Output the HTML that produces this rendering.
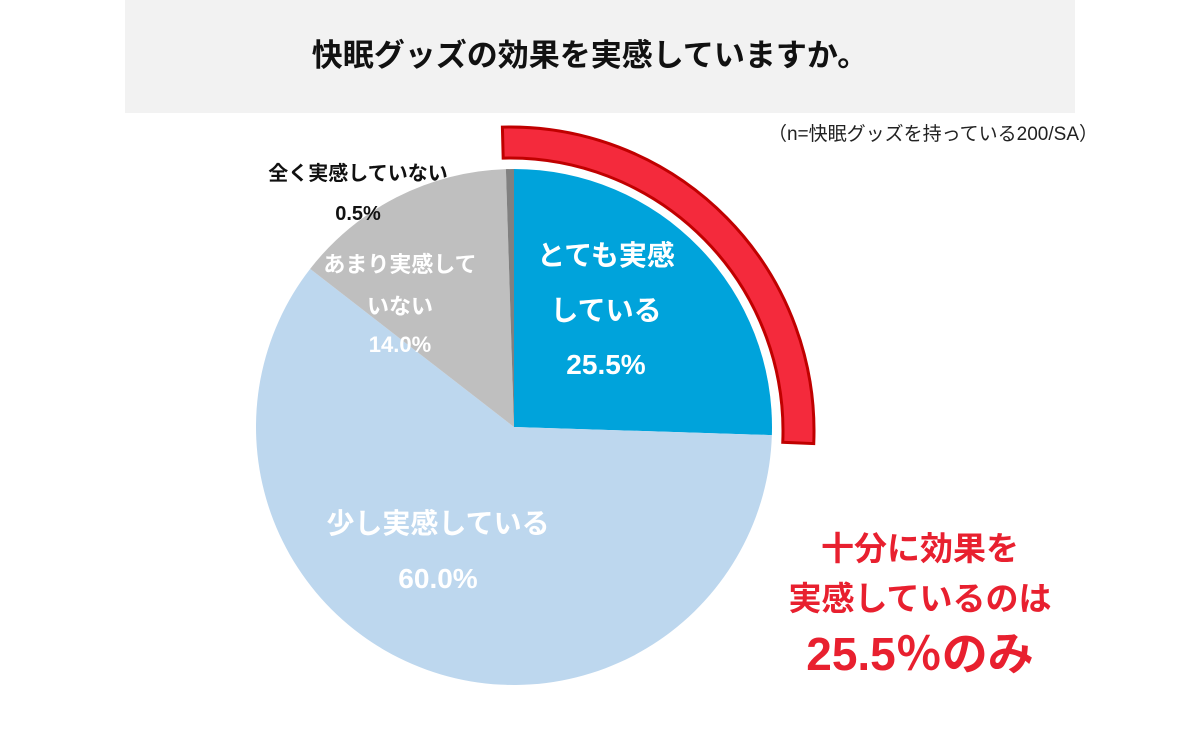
<!DOCTYPE html>
<html><head><meta charset="utf-8"><style>
body{margin:0;background:#fff;}
svg text{font-family:"Liberation Sans","Noto Sans CJK JP",sans-serif;}
</style></head><body>
<svg width="1200" height="730" viewBox="0 0 1200 730">
<rect x="125" y="0" width="950" height="113" fill="#f2f2f2"/>
<text x="590" y="66" text-anchor="middle" font-size="31" font-weight="bold" fill="#111">快眠グッズの効果を実感していますか。</text>
<text x="1098" y="140" text-anchor="end" font-size="19" fill="#222">（n=快眠グッズを持っている200/SA）</text>
<g id="slices"></g>
<path id="hl" fill="#f42a3c" stroke="#c00000" stroke-width="3"/>
<g font-weight="bold" text-anchor="middle">
<text x="606" y="265" font-size="28" fill="#fff">とても実感</text>
<text x="606" y="320" font-size="28" fill="#fff">している</text>
<text x="606" y="374" font-size="28" fill="#fff">25.5%</text>
<text x="438" y="533" font-size="28" fill="#fff">少し実感している</text>
<text x="438" y="588" font-size="28" fill="#fff">60.0%</text>
<text x="400" y="272" font-size="22" fill="#fff">あまり実感して</text>
<text x="400" y="314" font-size="22" fill="#fff">いない</text>
<text x="400" y="352" font-size="22" fill="#fff">14.0%</text>
<text x="358" y="180" font-size="20" fill="#111">全く実感していない</text>
<text x="358" y="220" font-size="20" fill="#111">0.5%</text>
<text x="920" y="560" font-size="33" fill="#e8202f">十分に効果を</text>
<text x="920" y="610" font-size="33" fill="#e8202f">実感しているのは</text>
<text x="920" y="670" font-size="46" fill="#e8202f">25.5％のみ</text>
</g>
</svg>
<script>
const categories=["とても実感している","少し実感している","あまり実感していない","全く実感していない"];
const values=[25.5,60.0,14.0,0.5];
const colors=["#00a3db","#bdd7ee","#bfbfbf","#808080"];
const cx=514,cy=427,r=258;
function pt(a,rad,x0,y0){return [x0+rad*Math.sin(a),y0-rad*Math.cos(a)];}
const g=document.getElementById('slices');
const total=values.reduce((a,b)=>a+b,0);
let acc=0;
values.forEach((v,i)=>{
 const a0=acc/total*2*Math.PI;acc+=v;const a1=acc/total*2*Math.PI;
 const p0=pt(a0,r,cx,cy),p1=pt(a1,r,cx,cy);
 const p=document.createElementNS('http://www.w3.org/2000/svg','path');
 p.setAttribute('d',`M${cx},${cy}L${p0[0]},${p0[1]}A${r},${r} 0 ${a1-a0>Math.PI?1:0} 1 ${p1[0]},${p1[1]}Z`);
 p.setAttribute('fill',colors[i]);
 
 
 g.appendChild(p);
});
// highlight arc over first slice
const hx=510,hy=431,ri=273,ro=304;
const b0=-0.025,b1=values[0]/total*2*Math.PI+0.01;
const o0=pt(b0,ro,hx,hy),o1=pt(b1,ro,hx,hy),i1=pt(b1,ri,hx,hy),i0=pt(b0,ri,hx,hy);
document.getElementById('hl').setAttribute('d',`M${o0[0]},${o0[1]}A${ro},${ro} 0 0 1 ${o1[0]},${o1[1]}L${i1[0]},${i1[1]}A${ri},${ri} 0 0 0 ${i0[0]},${i0[1]}Z`);
</script>
</body></html>
